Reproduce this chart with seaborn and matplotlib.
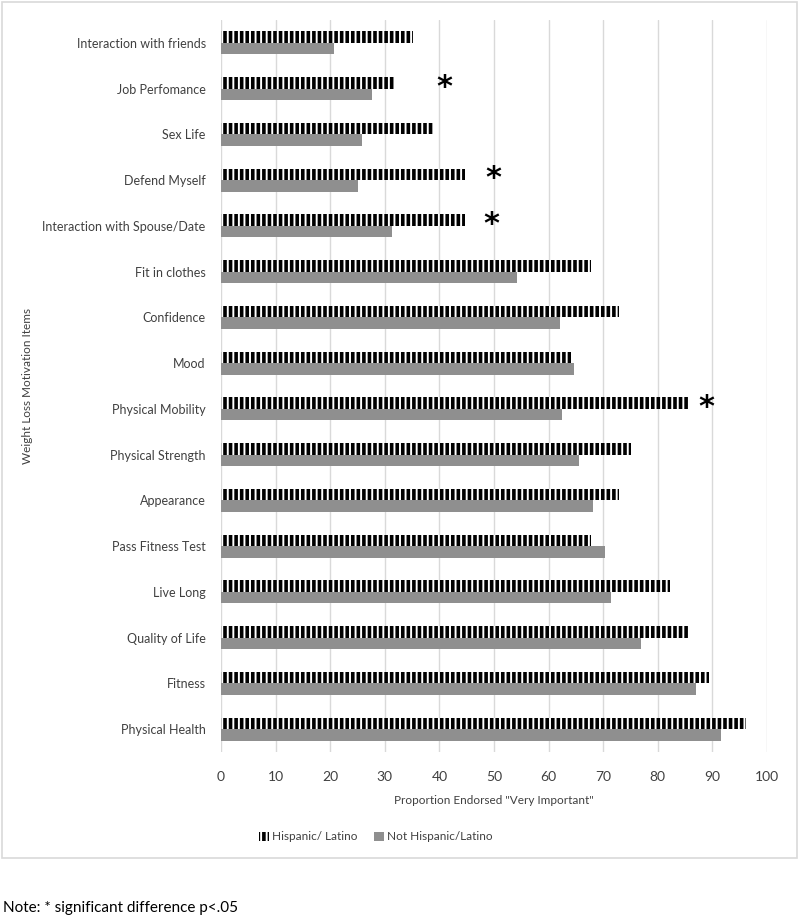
import numpy as np
import pandas as pd
import seaborn as sns
import matplotlib.pyplot as plt
from matplotlib.patches import Rectangle

items = ['Interaction with friends', 'Job Perfomance', 'Sex Life', 'Defend Myself',
         'Interaction with Spouse/Date', 'Fit in clothes', 'Confidence', 'Mood',
         'Physical Mobility', 'Physical Strength', 'Appearance', 'Pass Fitness Test',
         'Live Long', 'Quality of Life', 'Fitness', 'Physical Health']
hispanic = [35.2, 31.7, 39.1, 44.6, 44.6, 67.8, 72.9, 64.1,
            85.8, 75.1, 72.9, 67.7, 82.2, 85.8, 89.3, 96.2]
not_hispanic = [20.7, 27.6, 25.9, 25.0, 31.3, 54.3, 62.0, 64.6,
                62.5, 65.6, 68.2, 70.3, 71.4, 77.0, 87.0, 91.6]
groups = ['Hispanic/ Latino', 'Not Hispanic/Latino']
# significance stars: item -> x position
stars = {'Job Perfomance': 40.9, 'Defend Myself': 49.9,
         'Interaction with Spouse/Date': 49.5, 'Physical Mobility': 88.9}

df = pd.DataFrame({
    'item': items * 2,
    'value': hispanic + not_hispanic,
    'group': [groups[0]] * len(items) + [groups[1]] * len(items),
})

sns.set_style('white')
plt.rcParams['font.family'] = ['Lato', 'DejaVu Sans']
plt.rcParams['hatch.linewidth'] = 2.6

fig = plt.figure(figsize=(8, 9.23), dpi=100)
ax = fig.add_axes([221 / 800, 1 - 752 / 923, 546 / 800, 732 / 923])

sns.barplot(data=df, y='item', x='value', hue='group', orient='h',
            palette=['white', '#8f8f8f'], width=0.5, order=items,
            hue_order=groups, linewidth=0, ax=ax, legend=False)

for p in ax.containers[0]:
    p.set_hatch('|||')
    p.set_edgecolor('black')
    p.set_linewidth(0)

for name, xs in stars.items():
    i = items.index(name)
    ax.text(xs, i - 0.03, '*', ha='center', va='center', fontsize=22,
            fontweight='bold', color='black', family='DejaVu Sans')

ax.set_xlim(0, 100)
ax.set_ylim(15.5, -0.5)
ax.set_xticks(np.arange(0, 101, 10))
ax.grid(axis='x', color='#d9d9d9', linewidth=1)
ax.set_axisbelow(True)
for s in ax.spines.values():
    s.set_visible(False)
ax.tick_params(axis='x', length=0, pad=14, labelsize=10, labelcolor='#404040')
ax.tick_params(axis='y', length=0, pad=11, labelsize=9, labelcolor='#404040')
ax.set_xlabel('Proportion Endorsed "Very Important"', fontsize=8.5, color='#404040', labelpad=8)
ax.set_ylabel('Weight Loss Motivation Items', fontsize=8.5, color='#404040')
ax.yaxis.set_label_coords((33 - 221) / 546, 0.5)

handles = [ax.containers[0][0], ax.containers[1][0]]
fig.legend(handles, groups, loc='center', bbox_to_anchor=(376 / 800, 1 - 837 / 923),
           ncol=2, frameon=False, fontsize=8.5, handlelength=0.8, handleheight=0.8,
           handletextpad=0.3, columnspacing=1.4, labelcolor='#404040')

fig.patches.append(Rectangle((2 / 800, 1 - 858 / 923), 795 / 800, 856 / 923,
                             transform=fig.transFigure, fill=False,
                             edgecolor='#d9d9d9', linewidth=1.2))
fig.text(3 / 800, 1 - 908 / 923, 'Note: * significant difference p<.05',
         fontsize=11, color='black', va='center')

fig.savefig('out.png', dpi=100)
